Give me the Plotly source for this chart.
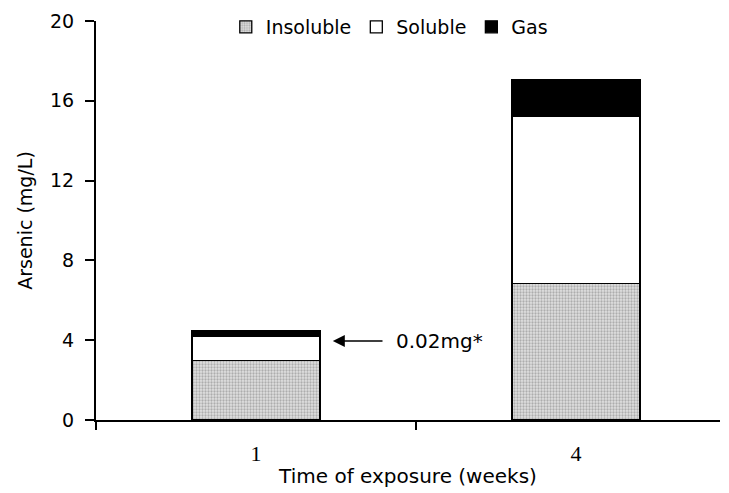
import plotly.graph_objects as go

weeks = ["1", "4"]
insoluble = [2.97, 6.85]
soluble = [1.2, 8.35]
gas = [0.31, 1.84]
y_ticks = [0, 4, 8, 12, 16, 20]

xpos = list(range(len(weeks)))
FONT = "DejaVu Sans"

fig = go.Figure()
fig.add_bar(x=xpos, y=insoluble, name="Insoluble", width=0.4,
            marker=dict(color="#c8c8c8", line=dict(color="black", width=1.3),
                        pattern=dict(shape=".", size=3, solidity=0.45,
                                     fgcolor="#7a7a7a", bgcolor="#e0e0e0")))
fig.add_bar(x=xpos, y=soluble, name="Soluble", width=0.4,
            marker=dict(color="white", line=dict(color="black", width=1.3)))
fig.add_bar(x=xpos, y=gas, name="Gas", width=0.4,
            marker=dict(color="black", line=dict(color="black", width=1.3)))

fig.update_layout(
    barmode="stack",
    width=721, height=485,
    margin=dict(l=88, r=9, t=13, b=73, autoexpand=False),
    plot_bgcolor="white", paper_bgcolor="white",
    font=dict(family=FONT, size=19, color="black"),
    showlegend=True,
    legend=dict(orientation="h", x=0.47, xanchor="center", y=0.985, yanchor="middle",
                font=dict(family=FONT, size=19), itemwidth=30, tracegroupgap=0,
                bgcolor="rgba(0,0,0,0)", traceorder="normal"),
    xaxis=dict(range=[-0.5, 1.45], tickvals=xpos, ticktext=weeks, ticks="",
               showgrid=False, zeroline=False, showline=True, linecolor="black",
               linewidth=2, ticklabelstandoff=13, automargin=False,
               tickfont=dict(family="Liberation Serif", size=22),
               minor=dict(tickvals=[-0.5, 0.5], ticks="outside", ticklen=8,
                          tickwidth=2, tickcolor="black", showgrid=False),
               title=dict(text="Time of exposure (weeks)", standoff=4,
                          font=dict(family=FONT, size=20))),
    yaxis=dict(range=[0, 20], tickvals=y_ticks, ticks="outside", ticklen=9,
               tickwidth=2, tickcolor="black", showgrid=False, zeroline=False,
               showline=True, linecolor="black", linewidth=2, automargin=False,
               ticklabelstandoff=7,
               tickfont=dict(family=FONT, size=19),
               title=dict(text="Arsenic (mg/L)", standoff=12,
                          font=dict(family=FONT, size=19))),
)

fig.add_annotation(x=0.24, y=3.96, ax=0.4, ay=3.96, axref="x", ayref="y",
                   xref="x", yref="y", text="", showarrow=True,
                   arrowhead=2, arrowsize=1.6, arrowwidth=1.5, arrowcolor="black")
fig.add_annotation(x=0.43, y=3.96, xref="x", yref="y", text="0.02mg*",
                   showarrow=False, xanchor="left", yanchor="middle",
                   font=dict(family=FONT, size=20))

fig.write_html("out.html")
